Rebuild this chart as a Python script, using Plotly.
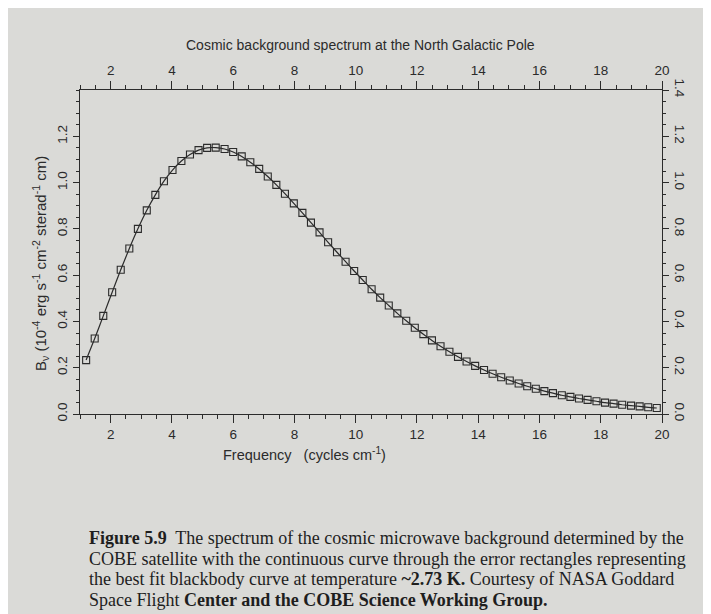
import plotly.graph_objects as go

# Frequency (cycles cm^-1) of the COBE error rectangles
freq = [1.20, 1.48, 1.76, 2.05, 2.33, 2.61, 2.89, 3.18, 3.46, 3.74,
        4.02, 4.31, 4.59, 4.87, 5.15, 5.43, 5.72, 6.00, 6.28, 6.56,
        6.85, 7.13, 7.41, 7.69, 7.98, 8.26, 8.54, 8.82, 9.10, 9.39,
        9.67, 9.95, 10.23, 10.52, 10.80, 11.08, 11.36, 11.65, 11.93, 12.21,
        12.49, 12.77, 13.06, 13.34, 13.62, 13.90, 14.19, 14.47, 14.75, 15.03,
        15.32, 15.60, 15.88, 16.16, 16.44, 16.73, 17.01, 17.29, 17.57, 17.86,
        18.14, 18.42, 18.70, 18.99, 19.27, 19.55, 19.83]
# Brightness B_nu (10^-4 erg s^-1 cm^-2 sterad^-1 cm)
bright = [0.233, 0.326, 0.424, 0.526, 0.623, 0.715, 0.800, 0.880, 0.947, 1.006,
          1.054, 1.093, 1.121, 1.140, 1.150, 1.151, 1.145, 1.132, 1.113, 1.088,
          1.059, 1.026, 0.990, 0.952, 0.910, 0.869, 0.827, 0.785, 0.742, 0.699,
          0.658, 0.618, 0.579, 0.539, 0.503, 0.469, 0.435, 0.403, 0.373, 0.345,
          0.318, 0.293, 0.269, 0.247, 0.227, 0.208, 0.190, 0.174, 0.159, 0.145,
          0.132, 0.120, 0.109, 0.099, 0.090, 0.081, 0.074, 0.067, 0.061, 0.055,
          0.049, 0.045, 0.040, 0.036, 0.033, 0.029, 0.026]

x_ticks = [2, 4, 6, 8, 10, 12, 14, 16, 18, 20]
y_ticks_left = [0.0, 0.2, 0.4, 0.6, 0.8, 1.0, 1.2]
y_ticks_right = [0.0, 0.2, 0.4, 0.6, 0.8, 1.0, 1.2, 1.4]

title_text = "Cosmic background spectrum at the North Galactic Pole"
x_title = "Frequency&nbsp;&nbsp;&nbsp;(cycles cm<sup>-1</sup>)"
y_title = "B<sub>ν</sub> (10<sup>-4</sup> erg s<sup>-1</sup> cm<sup>-2</sup> sterad<sup>-1</sup> cm)"
caption = [
    "<b>Figure 5.9</b>  The spectrum of the cosmic microwave background determined by the",
    "COBE satellite with the continuous curve through the error rectangles representing",
    "the best fit blackbody curve at temperature <b>~2.73 K.</b> Courtesy of NASA Goddard",
    "Space Flight <b>Center and the COBE Science Working Group.</b>",
]

W, H = 711, 614
L, R, T, B = 72, 654, 82, 406
INK = "#2b2b2b"
BG = "#dadad7"
SANS = "Liberation Sans, Arial, sans-serif"
SERIF = "Liberation Serif, Times New Roman, serif"


def px(xp):
    return (xp - L) / (R - L)


def py(yp):
    return (B - yp) / (B - T)


fig = go.Figure()
fig.add_trace(go.Scatter(
    x=freq, y=bright, mode="lines+markers",
    line=dict(color=INK, width=1.2, shape="spline", smoothing=0.6),
    marker=dict(symbol="square-open", size=7, color=INK, line=dict(width=1.1, color=INK)),
    showlegend=False, hoverinfo="x+y"))
# invisible trace to activate the secondary (top / right) axes
fig.add_trace(go.Scatter(x=[freq[0]], y=[bright[0]], xaxis="x2", yaxis="y2",
                         mode="markers", marker=dict(opacity=0), showlegend=False,
                         hoverinfo="skip"))

tickfont = dict(family=SANS, size=13.5, color=INK)
common_x = dict(range=[1, 20], showgrid=False, zeroline=False, showline=True,
                linecolor=INK, linewidth=1.3, ticks="outside", ticklen=8,
                tickwidth=1.2, tickcolor=INK, tickvals=x_ticks, tickfont=tickfont,
                minor=dict(dtick=0.5, tick0=0, ticks="outside", ticklen=4,
                           tickwidth=1, tickcolor=INK))
common_y = dict(range=[0, 1.4], showgrid=False, zeroline=False, showline=True,
                linecolor=INK, linewidth=1.3, ticks="outside", ticklen=6,
                tickwidth=1.2, tickcolor=INK, tickfont=tickfont, tickformat=".1f",
                minor=dict(dtick=0.05, tick0=0, ticks="outside", ticklen=3,
                           tickwidth=1, tickcolor=INK))

fig.update_layout(
    width=W, height=H,
    margin=dict(l=L, r=W - R, t=T, b=H - B, pad=0),
    paper_bgcolor=BG, plot_bgcolor=BG,
    xaxis=dict(**common_x, side="bottom"),
    xaxis2=dict(**common_x, side="top", overlaying="x", matches="x"),
    yaxis=dict(**common_y, side="left", tickvals=y_ticks_left, tickangle=-90),
    yaxis2=dict(**common_y, side="right", overlaying="y", matches="y",
                tickvals=y_ticks_right, tickangle=90),
    showlegend=False,
)

ann = []
ann.append(dict(text=title_text, x=px(352), y=py(37), xref="paper", yref="paper",
                showarrow=False, font=dict(family=SANS, size=14, color=INK),
                xanchor="center", yanchor="middle"))
ann.append(dict(text=x_title, x=px(296), y=py(446), xref="paper", yref="paper",
                showarrow=False, font=dict(family=SANS, size=14.5, color=INK),
                xanchor="center", yanchor="middle"))
ann.append(dict(text=y_title, x=px(33), y=py(256), xref="paper", yref="paper",
                showarrow=False, textangle=-90,
                font=dict(family=SANS, size=15, color=INK),
                xanchor="center", yanchor="middle"))
for i, line in enumerate(caption):
    ann.append(dict(text=line, x=px(79), y=py(530 + 20.5 * i), xref="paper", yref="paper",
                    showarrow=False, font=dict(family=SERIF, size=18, color="#1e1e1e"),
                    xanchor="left", yanchor="middle", align="left"))
fig.update_layout(annotations=ann)

fig.write_html("out.html")
